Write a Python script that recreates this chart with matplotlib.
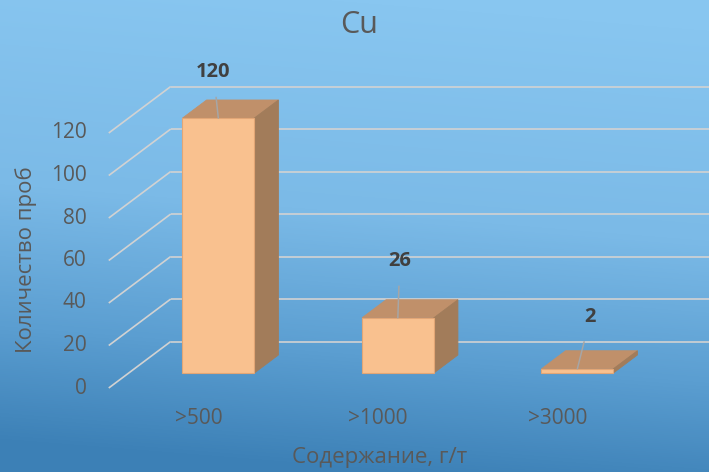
import numpy as np
import matplotlib
matplotlib.use("Agg")
import matplotlib.pyplot as plt
from matplotlib.colors import LinearSegmentedColormap
from matplotlib.patches import Polygon

plt.rcParams['font.family'] = ['Open Sans', 'DejaVu Sans']

# Data
categories = [">500", ">1000", ">3000"]
counts = [120, 26, 2]
y_ticks = [0, 20, 40, 60, 80, 100, 120]
title = "Cu"
x_title = "Содержание, г/т"
y_title = "Количество проб"

# Label offsets (pixels) from the top-front edge of each bar to its data label
label_offsets = [(-5, 46), (2, 57), (13, 52)]

W, H = 709, 472
fig = plt.figure(figsize=(W / 100, H / 100), dpi=100)
ax = fig.add_axes([0, 0, 1, 1])

# pixel geometry of the pseudo-3D frame
x0_px, cat_px = 198.5, 179.5      # category 0 centre, spacing
v0_px, unit_px = 388.0, 2.125     # baseline y, pixels per unit
depth_dx_px, depth_dy_px = 62.0, 46.5

xmin = (0 - x0_px) / cat_px
xmax = (W - x0_px) / cat_px
ymin = (v0_px - H) / unit_px
ymax = v0_px / unit_px
ax.set_xlim(xmin, xmax)
ax.set_ylim(ymin, ymax)
ax.axis('off')

DX = depth_dx_px / cat_px
DY = depth_dy_px / unit_px


def proj(x, v, d):
    return x + d * DX, v + d * DY


# background gradient
cmap = LinearSegmentedColormap.from_list(
    "bg", [(0.0, "#88C6F0"), (0.45, "#7BBAE7"), (0.75, "#5B9ED1"), (1.0, "#3C80B6")])
yy, xx = np.mgrid[0:H, 0:W]
t = np.clip((yy - 0.08 * (xx - W / 2)) / H, 0, 1)
ax.imshow(cmap(t), extent=(xmin, xmax, ymin, ymax), aspect='auto', zorder=0,
          interpolation='bilinear')

grid_c = "#D2D2D2"
for v in y_ticks:
    a = proj(-0.5, v, 0)
    b = proj(-0.5, v, 1)
    ax.plot([a[0], b[0]], [a[1], b[1]], color=grid_c, lw=1.2, zorder=1,
            solid_capstyle='butt')
    ax.plot([b[0], xmax + 1], [b[1], b[1]], color=grid_c, lw=1.2, zorder=1,
            solid_capstyle='butt')
    ax.annotate(str(v), xy=(-0.5, v), xytext=(-16, 0), textcoords='offset points',
                ha='right', va='center', fontsize=15, color="#595959", zorder=5)

# bars
D0, D1 = 0.32, 0.71
bw = 0.4
front_c, top_c, side_c = "#F9C18F", "#C0906A", "#A27C5A"
edge_c = "#E2A676"
xs = np.arange(len(categories))
ax.bar(xs + D0 * DX, counts, width=bw, bottom=D0 * DY, color=front_c,
       edgecolor=edge_c, linewidth=0.8, zorder=3)
for x, v in zip(xs, counts):
    l, r = x - bw / 2, x + bw / 2
    top = [proj(l, v, D0), proj(r, v, D0), proj(r, v, D1), proj(l, v, D1)]
    side = [proj(r, 0, D0), proj(r, v, D0), proj(r, v, D1), proj(r, 0, D1)]
    ax.add_patch(Polygon(top, closed=True, facecolor=top_c, edgecolor=top_c,
                         lw=0.6, zorder=2.9))
    ax.add_patch(Polygon(side, closed=True, facecolor=side_c, edgecolor=side_c,
                         lw=0.6, zorder=2.9))

# data labels with leader lines
for x, v, (ox, oy) in zip(xs, counts, label_offsets):
    anchor = proj(x, v, D0)
    ax.annotate(str(v), xy=anchor, xytext=(ox * 0.72, oy * 0.72),
                textcoords='offset points', ha='center', va='center',
                fontsize=14.5, fontweight='bold', color="#404040", zorder=6,
                arrowprops=dict(arrowstyle='-', color="#A6A6A6", lw=1.1,
                                shrinkA=9, shrinkB=0))

# category labels
for x, c in zip(xs, categories):
    ax.annotate(c, xy=(x, 0), xytext=(0, -21.6), textcoords='offset points',
                ha='center', va='center', fontsize=15, color="#595959", zorder=5)

fig.text(359 / W, 1 - 25 / H, title, ha='center', va='center', fontsize=22,
         color="#595959")
fig.text(379.5 / W, 1 - 458 / H, x_title, ha='center', va='center', fontsize=16,
         color="#595959")
fig.text(26 / W, 1 - 260 / H, y_title, ha='center', va='center', fontsize=16,
         rotation=90, color="#595959")

fig.savefig("out.png", dpi=100)
